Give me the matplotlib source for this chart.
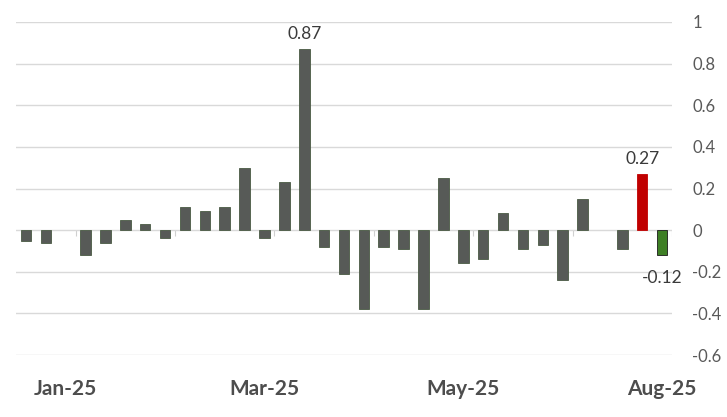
import numpy as np
import matplotlib
matplotlib.use("Agg")
import matplotlib.pyplot as plt

values = [-0.05, -0.06, np.nan, -0.12, -0.06, 0.05, 0.03, -0.04, 0.11, 0.09,
          0.11, 0.30, -0.04, 0.23, 0.87, -0.08, -0.21, -0.38, -0.08, -0.09,
          -0.38, 0.25, -0.16, -0.14, 0.08, -0.09, -0.07, -0.24, 0.15, np.nan,
          -0.09, 0.27, -0.12]
tick_labels = ["Jan-25", "Mar-25", "May-25", "Aug-25"]
tick_index = [2, 12, 22, 32]
yticks = [-0.6, -0.4, -0.2, 0, 0.2, 0.4, 0.6, 0.8, 1]
ytick_labels = ["-0.6", "-0.4", "-0.2", "0", "0.2", "0.4", "0.6", "0.8", "1"]
annot_index = [14, 31, 32]

plt.rcParams['font.family'] = ['Lato', 'DejaVu Sans']

fig = plt.figure(figsize=(7.27, 4.17), dpi=100)
ax = fig.add_axes([16/727, 1-355/417, (672-16)/727, (355-22)/417])

vals = np.array(values, dtype=float)
x = np.arange(len(vals))
colors = np.array(['#575a57'] * len(vals), dtype=object)
edges = np.array(['#4a5a44'] * len(vals), dtype=object)
colors[31] = '#c00000'; edges[31] = '#c00000'
colors[32] = '#3e7f25'; edges[32] = '#1a1a1a'
ok = ~np.isnan(vals)
ax.bar(x[ok], vals[ok], width=0.53, color=list(colors[ok]), edgecolor=list(edges[ok]),
       linewidth=0.6, zorder=3)

ax.set_xlim(-0.5, len(vals) - 0.5)
ax.set_ylim(-0.6, 1.0)
ax.set_yticks(yticks)
ax.set_yticklabels(ytick_labels)
ax.yaxis.tick_right()
ax.tick_params(axis='y', length=0, pad=14.5, labelsize=12, labelcolor='#595959')
for lbl in ax.get_yticklabels():
    lbl.set_horizontalalignment('left')
ax.set_xticks(tick_index)
ax.set_xticklabels(tick_labels, fontweight='bold')
ax.tick_params(axis='x', length=0, pad=17, labelsize=15, labelcolor='#4d4d4d')
ax.grid(axis='y', color='#d9d9d9', linewidth=1.0, zorder=0)
for s in ax.spines.values():
    s.set_visible(False)

# small separators on the zero line every 5 bars
sep = np.arange(2.5, len(vals), 5)
ax.vlines(sep, -0.03, 0, color='#d0d0d0', linewidth=0.8, zorder=1)

for i in annot_index:
    v = vals[i]
    if v >= 0:
        ax.annotate(f"{v:.2f}", (i, v), xytext=(0, 5), textcoords='offset points',
                    ha='center', va='bottom', fontsize=12.5, color='#3a3a3a')
    else:
        ax.annotate(f"{v:.2f}", (i, v), xytext=(0, -11), textcoords='offset points',
                    ha='center', va='top', fontsize=12.5, color='#3a3a3a')

fig.savefig("out.png", dpi=100)
